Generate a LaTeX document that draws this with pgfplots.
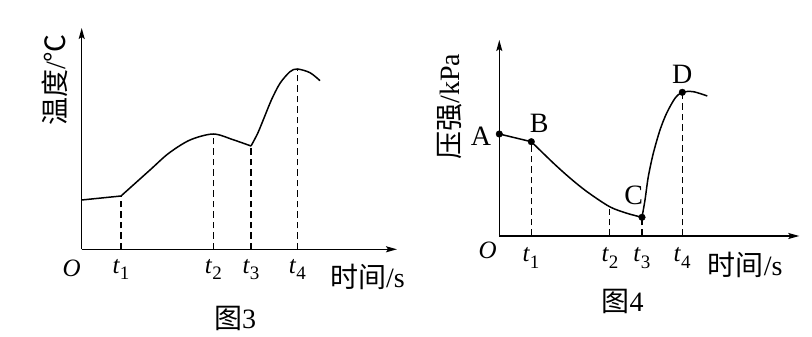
\documentclass[border=0pt]{standalone}
\usepackage{pgfplots}
\pgfplotsset{compat=1.18}
\usetikzlibrary{arrows.meta}
\usepackage{fontspec}
\setmainfont{Liberation Serif}
\newfontfamily\cjk{Noto Sans CJK SC}
\newcommand{\tl}[1]{{\fontsize{25}{25}\selectfont\itshape t}\kern0.5pt\raisebox{-0.22em}{\fontsize{19}{19}\selectfont #1}}
\pgfplotsset{
  myaxis/.style={
    x=1pt, y=1pt, anchor=south west, enlargelimits=false, clip=false,
    axis lines=left,
    axis line style={line width=1.3pt, -{Stealth[length=11pt,width=6pt,inset=2pt]}},
    ytick=\empty, major tick length=0pt,
    xticklabel style={anchor=base, inner sep=0pt},
  },
  curve/.style={black, line width=1.5pt, no marks},
  dsh/.style={black, line width=1.3pt, dash pattern=on 6.5pt off 4pt, no marks},
}
\begin{document}
\begin{tikzpicture}[x=1pt,y=1pt]
\useasboundingbox (0,0) rectangle (812,337);
\fontsize{28}{30}\selectfont
% ---------- left: figure 3 ----------
\begin{axis}[myaxis, at={(81.7pt,87.7pt)}, xmin=0, xmax=315.3, ymin=0, ymax=221.3,
  xtick={39.3,131.6,169.3,215.6},
  xticklabels={{\tl{1}},{\tl{2}},{\tl{3}},{\tl{4}}},
  xticklabel style={yshift=-24pt}]
\addplot[curve] coordinates {(0,49.3) (39.3,53.3)};
\addplot[curve, smooth] coordinates {(39.3,53.3) (68.3,79.3) (87,96) (108.3,109.3) (131.6,115.3) (151.6,109.5) (169.3,103.3)};
\addplot[curve, smooth] coordinates {(169.3,103.3) (176,116) (183,133) (190,150) (198.3,166) (208.3,177.6) (215.6,180.3) (228.3,176.6) (238.3,168.6)};
\addplot[dsh] coordinates {(39.3,0) (39.3,53.3)};
\addplot[dsh] coordinates {(131.6,0) (131.6,115.3)};
\addplot[dsh] coordinates {(169.3,0) (169.3,103.3)};
\addplot[dsh] coordinates {(215.6,0) (215.6,180.3)};
\node at (axis cs:-10,-19) {\fontsize{25}{25}\selectfont\itshape O};
\end{axis}
% ---------- right: figure 4 ----------
\begin{axis}[myaxis, at={(499.3pt,101pt)}, xmin=0, xmax=300, ymin=0, ymax=196,
  xtick={31.7,110.7,142.5,182.8},
  xticklabels={{\tl{1}},{\tl{2}},{\tl{3}},{\tl{4}}},
  xticklabel style={yshift=-26pt}]
\addplot[curve] coordinates {(0,102) (32,94.3)};
\addplot[curve, smooth] coordinates {(32,94.3) (54.3,72.7) (71,57.7) (87.7,44.3) (110.3,29.3) (127.7,22.7) (142.7,18.7)};
\addplot[curve, smooth] coordinates {(142.7,18.7) (145.7,36) (149,59.3) (154,82.7) (160.7,106) (167.3,122.7) (175.7,137.7) (183,143.7) (194,144.3) (208,140)};
\addplot[dsh] coordinates {(32,0) (32,94.3)};
\addplot[dsh] coordinates {(110.5,0) (110.5,27)};
\addplot[dsh] coordinates {(142.7,0) (142.7,18.7)};
\addplot[dsh] coordinates {(183,0) (183,143.7)};
\addplot[only marks, mark=*, mark size=3.3pt, black] coordinates {(0,102) (32,94.3) (142.7,18.7) (183,143.7)};
\node[anchor=east, inner sep=0pt] at (axis cs:-8,99.5) {A};
\node at (axis cs:40,112.5) {B};
\node at (axis cs:134.5,41) {C};
\node at (axis cs:183,162) {D};
\node at (axis cs:-11.6,-14) {\fontsize{25}{25}\selectfont\itshape O};
\end{axis}
% ---------- texts ----------
\node[rotate=90] at (55,257) {{\cjk 温度}/{\cjk ℃}};
\node[rotate=90] at (450,230.3) {{\cjk 压强}/kPa};
\node[anchor=west, inner sep=0pt] at (330,60.3) {{\cjk 时间}/s};
\node[anchor=west, inner sep=0pt] at (707.7,72) {{\cjk 时间}/s};
\node at (235,19) {{\cjk 图}3};
\node at (622.7,35.3) {{\cjk 图}4};
\end{tikzpicture}
\end{document}
